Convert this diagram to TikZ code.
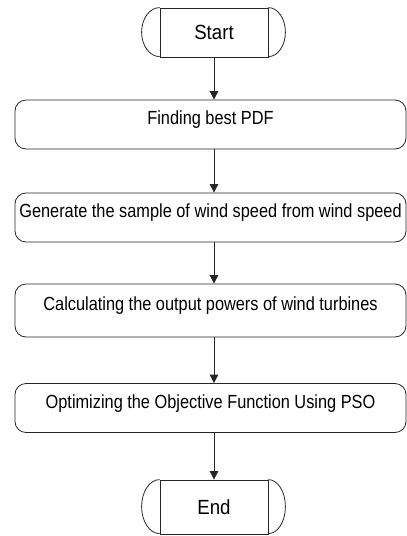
\documentclass[tikz,border=0pt]{standalone}
\usepackage{fontspec}
\setmainfont{Liberation Sans}
\newfontfamily\procfont[FakeStretch=0.86]{Liberation Sans}
\newfontfamily\termfont[FakeStretch=0.91]{Liberation Sans}
\usetikzlibrary{arrows.meta}

\tikzset{
  line/.style={draw=black!85, line width=0.8pt},
  flow/.style={line, -{Triangle[width=8.5pt,length=8.5pt]}},
  procbox/.style={line, rectangle, rounded corners=11pt,
    minimum width=391pt, minimum height=49pt, inner sep=0pt,
    font=\procfont\fontsize{19}{21}\selectfont, text height=9pt, text depth=9pt},
  termbox/.style={line, rectangle, minimum width=108pt, inner sep=0pt,
    font=\termfont\fontsize{20.5}{22}\selectfont}
}

\begin{document}
\begin{tikzpicture}[x=1pt, y=-1pt]
  \useasboundingbox (0,0) rectangle (407,536);

  % terminator: Start
  \node[termbox, minimum height=49pt] (start) at (214,32.5) {Start};
  \draw[line] (start.north west) arc[start angle=90, end angle=270, x radius=18pt, y radius=24.5pt];
  \draw[line] (start.north east) arc[start angle=90, end angle=-90, x radius=17pt, y radius=24.5pt];

  % process steps
  \node[procbox] (p1) at (210.5,124.5) {Finding best PDF};
  \node[procbox] (p2) at (210.5,217.5) {Generate the sample of wind speed from wind speed};
  \node[procbox, minimum height=53pt] (p3) at (210.5,310.5) {Calculating the output powers of wind turbines};
  \node[procbox] (p4) at (210.5,408)   {Optimizing the Objective Function Using PSO};

  % terminator: End
  \node[termbox, minimum height=54pt] (end) at (214,507) {End};
  \draw[line] (end.north west) arc[start angle=90, end angle=270, x radius=18pt, y radius=27pt];
  \draw[line] (end.north east) arc[start angle=90, end angle=-90, x radius=17pt, y radius=27pt];

  % connectors
  \draw[flow] (start.south) -- (start.south |- p1.north);
  \draw[flow] (start.south |- p1.south) -- (start.south |- p2.north);
  \draw[flow] (start.south |- p2.south) -- (start.south |- p3.north);
  \draw[flow] (start.south |- p3.south) -- (start.south |- p4.north);
  \draw[flow] (start.south |- p4.south) -- (end.north);
\end{tikzpicture}
\end{document}
